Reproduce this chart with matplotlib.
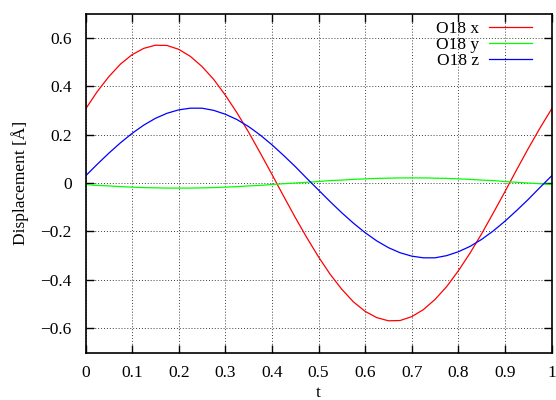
import matplotlib
matplotlib.use("Agg")
import matplotlib.pyplot as plt

# time axis (0 .. 1, step 0.025)
t = [i * 0.025 for i in range(41)]

# O18 displacement components
o18_x = [0.305, 0.377, 0.439, 0.491, 0.530, 0.556, 0.569, 0.568, 0.552, 0.523,
         0.481, 0.428, 0.363, 0.290, 0.210, 0.124, 0.036, -0.054, -0.142, -0.226,
         -0.305, -0.377, -0.439, -0.491, -0.530, -0.556, -0.569, -0.568, -0.552, -0.523,
         -0.481, -0.428, -0.363, -0.290, -0.210, -0.124, -0.036, 0.054, 0.142, 0.226,
         0.305]
o18_y = [-0.006, -0.010, -0.012, -0.015, -0.017, -0.019, -0.020, -0.021, -0.021, -0.021,
         -0.020, -0.019, -0.017, -0.015, -0.012, -0.010, -0.006, -0.003, 0.000, 0.003,
         0.006, 0.010, 0.012, 0.015, 0.017, 0.019, 0.020, 0.021, 0.021, 0.021,
         0.020, 0.019, 0.017, 0.015, 0.012, 0.010, 0.006, 0.003, 0.000, -0.003,
         -0.006]
o18_z = [0.029, 0.077, 0.123, 0.166, 0.205, 0.239, 0.267, 0.288, 0.302, 0.309,
         0.309, 0.300, 0.284, 0.262, 0.233, 0.198, 0.158, 0.114, 0.068, 0.019,
         -0.029, -0.077, -0.123, -0.166, -0.205, -0.239, -0.267, -0.288, -0.302, -0.309,
         -0.309, -0.300, -0.284, -0.262, -0.233, -0.198, -0.158, -0.114, -0.068, -0.019,
         0.029]

xticks = [0, 0.1, 0.2, 0.3, 0.4, 0.5, 0.6, 0.7, 0.8, 0.9, 1]
xlabels = ["0", "0.1", "0.2", "0.3", "0.4", "0.5", "0.6", "0.7", "0.8", "0.9", "1"]
yticks = [-0.6, -0.4, -0.2, 0, 0.2, 0.4, 0.6]
ylabels = ["\u22120.6", "\u22120.4", "\u22120.2", "0", "0.2", "0.4", "0.6"]

plt.rcParams['font.family'] = ['Liberation Serif', 'DejaVu Serif']
plt.rcParams['font.size'] = 12.5

fig = plt.figure(figsize=(5.56, 4.0), dpi=100)
ax = fig.add_axes([85.5 / 556, 1 - 352.5 / 400, (551.5 - 85.5) / 556, (352.5 - 13.5) / 400])

ax.plot(t, o18_x, color="#ff0000", lw=0.9, label="O18 x")
ax.plot(t, o18_y, color="#00ff00", lw=0.9, label="O18 y")
ax.plot(t, o18_z, color="#0000ff", lw=0.9, label="O18 z")

ax.set_xlim(0, 1)
ax.set_ylim(-0.7, 0.7)
ax.set_xticks(xticks)
ax.set_xticklabels(xlabels)
ax.set_yticks(yticks)
ax.set_yticklabels(ylabels)
ax.tick_params(axis="x", direction="in", length=6, width=1, top=True, pad=9)
ax.tick_params(axis="y", direction="in", length=6, width=1, right=True, pad=10)
ax.grid(True, color="0.25", linestyle=(0, (1, 2)), lw=0.7)
for s in ax.spines.values():
    s.set_linewidth(1.2)

ax.set_xlabel("t", labelpad=3)
ax.set_ylabel("Displacement [\u00c5]", labelpad=8)

ax.legend(loc="upper right", bbox_to_anchor=(0.966, 0.988), frameon=False,
          markerfirst=False, handlelength=2.5, handletextpad=0.57,
          labelspacing=0.0, borderaxespad=0, borderpad=0.2)

fig.savefig("out.png", dpi=100)
